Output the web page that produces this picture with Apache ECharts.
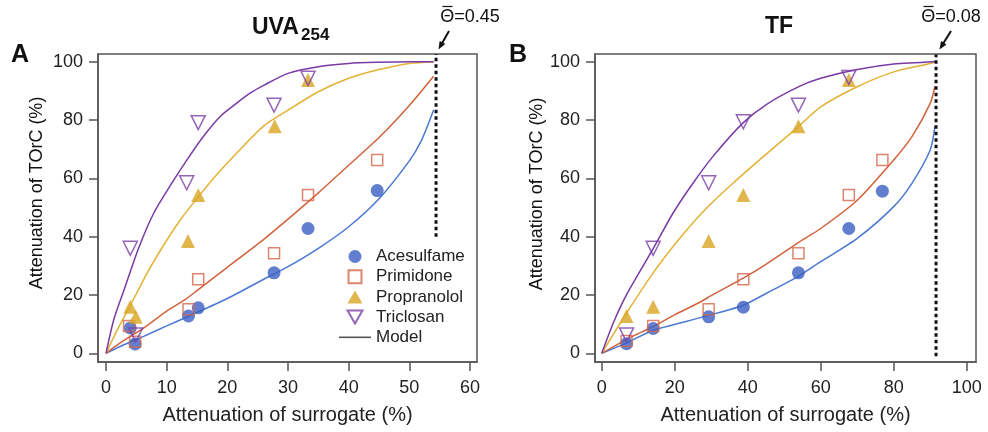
<!DOCTYPE html>
<html><head><meta charset="utf-8">
<script src="https://cdn.jsdelivr.net/npm/echarts@6/dist/echarts.min.js"></script>
<style>html,body{margin:0;padding:0;background:#fff}#c{width:988px;height:432px}</style>
</head><body><div id="c"></div>
<script>
// ---------- tick labels ----------
const xTicksA = [0, 10, 20, 30, 40, 50, 60];
const xTicksB = [0, 20, 40, 60, 80, 100];
const yTicks = [0, 20, 40, 60, 80, 100];

// ---------- categories ----------
const compounds = ['Acesulfame', 'Primidone', 'Propranolol', 'Triclosan'];
const modelName = 'Model';
const titleA = 'UVA', titleASub = '254', titleB = 'TF';
const thetaLabelA = 'Θ=0.45', thetaLabelB = 'Θ=0.08';

// ---------- panel A measured points [surrogate %, TOrC %] ----------
const ptsA_Acesulfame = [[4.0, 8.7], [4.8, 3.2], [13.6, 12.8], [15.2, 15.6], [27.7, 27.6], [33.3, 42.8], [44.7, 55.8]];
const ptsA_Primidone = [[3.8, 9.4], [4.8, 4.0], [13.6, 15.1], [15.2, 25.4], [27.7, 34.3], [33.3, 54.3], [44.7, 66.3]];
const ptsA_Propranolol = [[4.0, 16.0], [4.9, 12.5], [13.5, 38.5], [15.2, 54.3], [27.8, 77.9], [33.3, 93.7]];
const ptsA_Triclosan = [[4.0, 36.0], [4.9, 6.3], [13.3, 58.5], [15.2, 79.1], [27.7, 85.1], [33.3, 94.3]];

// ---------- panel B measured points ----------
const ptsB_Acesulfame = [[6.8, 3.3], [14.1, 8.5], [29.3, 12.5], [38.8, 15.8], [53.9, 27.6], [67.7, 42.8], [76.9, 55.6]];
const ptsB_Primidone = [[6.8, 4.2], [14.1, 9.4], [29.3, 15.1], [38.8, 25.4], [53.9, 34.3], [67.7, 54.3], [76.9, 66.3]];
const ptsB_Propranolol = [[6.8, 12.8], [14.1, 16.0], [29.3, 38.5], [38.8, 54.3], [53.9, 77.9], [67.7, 93.7]];
const ptsB_Triclosan = [[6.8, 6.3], [14.1, 36.0], [29.3, 58.5], [38.8, 79.4], [53.9, 85.1], [67.7, 94.6]];

// ---------- panel A model curves ----------
const modelA_Acesulfame = [[0, 0], [2.5, 2.5], [6.3, 5.9], [10, 9.4], [13.7, 12.8], [20, 18.8], [26, 25.4], [30, 29.7], [35, 36], [40, 43.4], [45, 53], [50, 66], [52, 73], [54, 83.4]];
const modelA_Primidone = [[0, 0], [2.5, 3.8], [6.3, 8.8], [10, 14.5], [12.9, 18.2], [15, 21.5], [20, 29.5], [26, 39.1], [30, 46], [35, 55], [40, 64.5], [45, 74], [50, 85], [54, 95]];
const modelA_Propranolol = [[0, 0], [1.9, 8.2], [4.1, 16.8], [6.8, 27.6], [9.6, 37.4], [12.3, 45.9], [15.3, 53.9], [18.3, 61.4], [21.6, 68.8], [26, 78], [30, 83.4], [35, 89.7], [40, 94.3], [45, 97.3], [50, 99.4], [54, 100]];
const modelA_Triclosan = [[0, 0], [1.3, 11.7], [3, 21.9], [5.4, 36.2], [7.9, 48.2], [10.9, 58.5], [13.4, 66.5], [16.1, 74.5], [18.9, 81.4], [21.6, 85.9], [23.8, 89.3], [26, 91.9], [30, 96], [35, 98.3], [40, 99.4], [45, 99.8], [50, 100], [54, 100]];

// ---------- panel B model curves ----------
const modelB_Acesulfame = [[0, 0], [6.85, 3.6], [14.1, 7.9], [20, 9.9], [29.3, 13], [38.8, 16.5], [45, 20.5], [54, 26.5], [60, 31.4], [70, 39.4], [80, 50.3], [85, 58.3], [90, 69.7], [91.3, 77.7]];
const modelB_Primidone = [[0, 0], [6.85, 4.8], [14.1, 9.2], [20, 13.2], [26.9, 17.5], [30, 19.8], [38.8, 25.8], [45, 30.5], [54.3, 38.3], [60, 42.8], [70, 52.5], [80, 66.3], [85, 74.3], [90, 85.7], [91.3, 91.5]];
const modelB_Propranolol = [[0, 0], [6.85, 13.9], [14.1, 27.6], [21.5, 39.6], [28.8, 49.9], [36.1, 58.5], [43.4, 66.5], [53.5, 77.3], [60, 84.5], [70, 91.4], [80, 96.5], [90, 99.4], [91.3, 100]];
const modelB_Triclosan = [[0, 0], [3.2, 10.5], [6.85, 20.2], [14.1, 35.9], [19.6, 48.2], [25.1, 58.5], [30.6, 67.7], [38.8, 79.1], [45.2, 85.4], [54.3, 91.6], [60, 94.3], [70, 97.3], [80, 99.2], [91.3, 100]];

// ---------- theta (dashed) lines ----------
const thetaLineA = [[54.4, 40], [54.4, 102.6]];
const thetaLineB = [[91.6, -1], [91.6, 102.5]];

// ---------- styles ----------
const FONT = 'Liberation Sans, Arial, Helvetica, sans-serif';
const TXT = '#222';
const AX = '#555';
const markColor = { Acesulfame: '#3a5fc2', Primidone: '#d4674a', Propranolol: '#d9a520', Triclosan: '#7b3fa8' };
const lineColor = { Acesulfame: '#4a78d2', Primidone: '#d2623c', Propranolol: '#e4b234', Triclosan: '#7a3aa6' };
const legendIcon = {
  Acesulfame: 'circle',
  Primidone: 'path://M0,0L10,0L10,10L0,10Z',
  Propranolol: 'path://M5,0L10,8.66L0,8.66Z',
  Triclosan: 'path://M0,0L10,0L5,8.66Z',
  Model: 'path://M0,0L32,0L32,1.6L0,1.6Z'
};

function scatterStyle(name) {
  const c = markColor[name];
  if (name === 'Acesulfame') return { symbol: 'circle', symbolSize: 13, itemStyle: { color: c } };
  if (name === 'Primidone') return { symbol: 'rect', symbolSize: 11, itemStyle: { color: 'rgba(255,255,255,0)', borderColor: c, borderWidth: 1.5 } };
  if (name === 'Propranolol') return { symbol: 'triangle', symbolSize: 14, itemStyle: { color: c } };
  return { symbol: 'triangle', symbolRotate: 180, symbolSize: 14, itemStyle: { color: 'rgba(255,255,255,0)', borderColor: c, borderWidth: 1.5 } };
}

const ptsA = { Acesulfame: ptsA_Acesulfame, Primidone: ptsA_Primidone, Propranolol: ptsA_Propranolol, Triclosan: ptsA_Triclosan };
const ptsB = { Acesulfame: ptsB_Acesulfame, Primidone: ptsB_Primidone, Propranolol: ptsB_Propranolol, Triclosan: ptsB_Triclosan };
const modA = { Acesulfame: modelA_Acesulfame, Primidone: modelA_Primidone, Propranolol: modelA_Propranolol, Triclosan: modelA_Triclosan };
const modB = { Acesulfame: modelB_Acesulfame, Primidone: modelB_Primidone, Propranolol: modelB_Propranolol, Triclosan: modelB_Triclosan };

const series = [];
[[modA, 0], [modB, 1]].forEach(([m, gi]) => {
  compounds.forEach(n => {
    series.push({ type: 'line', name: 'model_' + gi + '_' + n, xAxisIndex: gi, yAxisIndex: gi, data: m[n],
      smooth: 0.25, symbol: 'none', lineStyle: { color: lineColor[n], width: 1.5 }, z: 2, silent: true });
  });
});
[[thetaLineA, 0], [thetaLineB, 1]].forEach(([d, gi]) => {
  series.push({ type: 'line', name: 'theta_' + gi, xAxisIndex: gi, yAxisIndex: gi, data: d, symbol: 'none', clip: false,
    lineStyle: { color: '#111', width: 3, type: [3.5, 3] }, z: 3, silent: true });
});
[[ptsA, 0], [ptsB, 1]].forEach(([p, gi]) => {
  compounds.forEach(n => {
    series.push(Object.assign({ type: 'scatter', name: n, xAxisIndex: gi, yAxisIndex: gi, data: p[n], z: 5 }, scatterStyle(n)));
  });
});
series.push({ type: 'line', name: modelName, xAxisIndex: 0, yAxisIndex: 0, data: [], symbol: 'none', showSymbol: false,
  lineStyle: { color: '#555', width: 1.5 }, itemStyle: { color: '#555' } });

function xAxisCfg(gi, min, max, ticks) {
  return { gridIndex: gi, type: 'value', min: min, max: max,
    axisLine: { show: true, onZero: false, lineStyle: { color: AX, width: 1.5 } },
    axisTick: { show: true, length: 9, customValues: ticks, lineStyle: { color: AX, width: 1.5 } },
    axisLabel: { customValues: ticks, margin: 17, fontSize: 18, color: TXT, fontFamily: FONT },
    splitLine: { show: false },
    name: 'Attenuation of surrogate (%)', nameLocation: 'middle', nameGap: 43,
    nameTextStyle: { fontSize: 20, color: TXT, fontFamily: FONT } };
}
function yAxisCfg(gi) {
  return { gridIndex: gi, type: 'value', min: -2.98, max: 102.64,
    axisLine: { show: true, onZero: false, lineStyle: { color: AX, width: 1.5 } },
    axisTick: { show: true, length: 9, customValues: yTicks, lineStyle: { color: AX, width: 1.5 } },
    axisLabel: { customValues: yTicks, margin: 15, fontSize: 18, color: TXT, fontFamily: FONT },
    splitLine: { show: false } };
}

function arrow(x1, y1, x2, y2) {
  const dx = x2 - x1, dy = y2 - y1, L = Math.hypot(dx, dy);
  const ux = dx / L, uy = dy / L, px = -uy, py = ux;
  const hl = 8, hw = 3.2;
  const bx = x2 - ux * hl, by = y2 - uy * hl;
  return [
    { type: 'polyline', shape: { points: [[x1, y1], [bx + ux, by + uy]] }, style: { stroke: '#111', lineWidth: 2, fill: null } },
    { type: 'polygon', shape: { points: [[x2, y2], [bx + px * hw, by + py * hw], [bx - px * hw, by - py * hw]] }, style: { fill: '#111' } }
  ];
}

const txt = (x, y, text, size, weight, extra) => Object.assign({ type: 'text', x: x, y: y,
  style: { text: text, fontSize: size, fontWeight: weight || 'normal', fontFamily: FONT, fill: '#111', align: 'center', verticalAlign: 'middle' } }, extra || {});

const graphic = [
  txt(20, 55, 'A', 25, 'bold'),
  txt(518, 55, 'B', 25, 'bold'),
  txt(252, 28, titleA, 23, 'bold'),
  txt(779, 27, titleB, 23, 'bold'),
  txt(470, 17, thetaLabelA, 18),
  txt(951, 17, thetaLabelB, 18),
  txt(37.5, 193, 'Attenuation of TOrC (%)', 18, 'normal', { rotation: Math.PI / 2 }),
  txt(537.5, 194, 'Attenuation of TOrC (%)', 18, 'normal', { rotation: Math.PI / 2 })
].concat(arrow(449, 31, 438.5, 49.5), arrow(951, 31, 939.5, 49.5));
graphic[2].style.align = 'left';
graphic.push({ type: 'text', x: 301, y: 35, style: { text: titleASub, fontSize: 17, fontWeight: 'bold', fontFamily: FONT, fill: '#111', align: 'left', verticalAlign: 'middle' } });
// overbars on theta symbols
graphic.push({ type: 'line', shape: { x1: 442.5, y1: 6.5, x2: 452.5, y2: 6.5 }, style: { stroke: '#111', lineWidth: 1.2 } });
graphic.push({ type: 'line', shape: { x1: 923.5, y1: 6.5, x2: 933.5, y2: 6.5 }, style: { stroke: '#111', lineWidth: 1.2 } });

const chart = echarts.init(document.getElementById('c'), null, { renderer: 'canvas' });
chart.setOption({
  animation: false,
  backgroundColor: '#fff',
  textStyle: { fontFamily: FONT },
  grid: [
    { left: 98, top: 54, width: 379, height: 308, show: true, borderColor: AX, borderWidth: 1.5, backgroundColor: 'transparent' },
    { left: 595, top: 54, width: 381, height: 308, show: true, borderColor: AX, borderWidth: 1.5, backgroundColor: 'transparent' }
  ],
  xAxis: [xAxisCfg(0, -1.32, 61.15, xTicksA), xAxisCfg(1, -1.84, 102.55, xTicksB)],
  yAxis: [yAxisCfg(0), yAxisCfg(1)],
  legend: { orient: 'vertical', left: 339, top: 248, padding: 0, itemWidth: 32, itemHeight: 13, itemGap: 3.2,
    selectedMode: false, symbolRotate: 0,
    textStyle: { fontSize: 17, color: TXT, fontFamily: FONT },
    data: compounds.concat([modelName]).map(n => ({ name: n, icon: legendIcon[n], symbolRotate: 0 })) },
  graphic: graphic,
  series: series
});
</script></body></html>
